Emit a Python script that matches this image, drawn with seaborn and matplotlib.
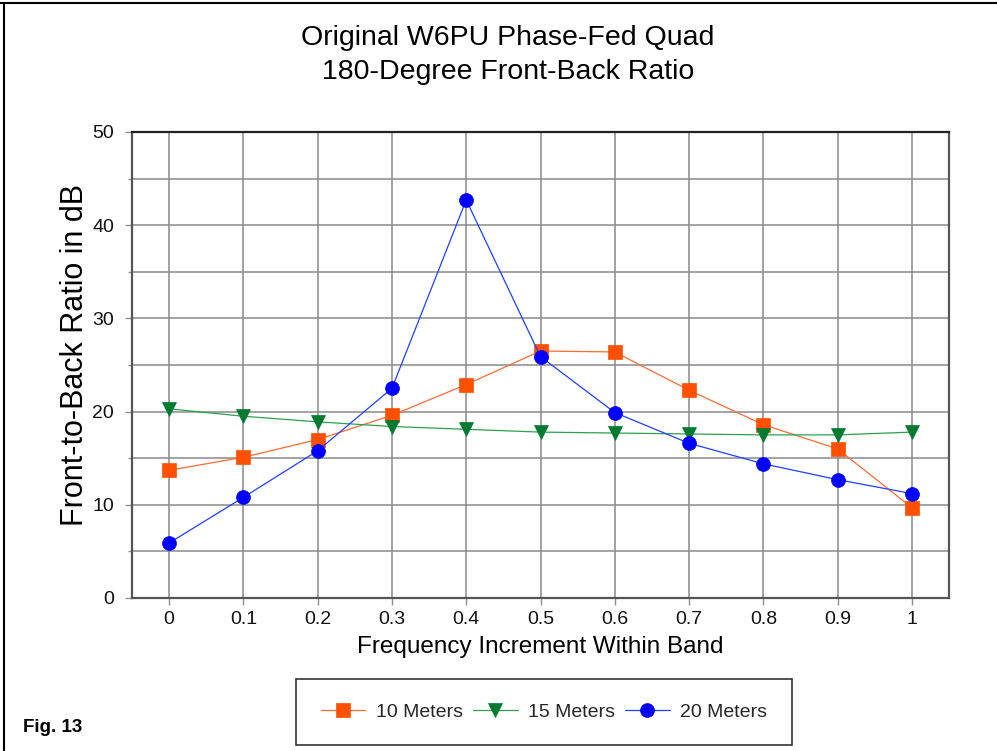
import matplotlib
matplotlib.use("Agg")
import matplotlib.pyplot as plt
import matplotlib.lines as mlines
import seaborn as sns
import pandas as pd
import numpy as np

# ---- data ----
freq = [0, 0.1, 0.2, 0.3, 0.4, 0.5, 0.6, 0.7, 0.8, 0.9, 1.0]
tick_labels = ["0", "0.1", "0.2", "0.3", "0.4", "0.5", "0.6", "0.7", "0.8", "0.9", "1"]
m10 = [13.7, 15.1, 17.0, 19.6, 22.9, 26.5, 26.4, 22.3, 18.6, 16.0, 9.7]
m15 = [20.3, 19.5, 18.9, 18.4, 18.1, 17.8, 17.7, 17.6, 17.5, 17.5, 17.8]
m20 = [5.9, 10.8, 15.8, 22.5, 42.7, 25.9, 19.9, 16.6, 14.4, 12.7, 11.2]
series_names = ["10 Meters", "15 Meters", "20 Meters"]

sns.set_theme(style="white")
plt.rcParams['font.family'] = ['Liberation Sans', 'DejaVu Sans']

fig = plt.figure(figsize=(9.97, 7.51), dpi=100)
ax = fig.add_axes([132/997, 1-598/751, (949-132)/997, (598-132)/751])

styles = [
    dict(y=m10, line="#FF6A35", mfc="#FF5000", marker="s", ms=10),
    dict(y=m15, line="#2EA050", mfc="#007A30", marker="v", ms=10),
    dict(y=m20, line="#2040FF", mfc="#0000FF", marker="o", ms=10),
]
for name, st in zip(series_names, styles):
    df = pd.DataFrame({"x": freq, "y": st["y"]})
    sns.lineplot(data=df, x="x", y="y", ax=ax, color=st["line"], lw=0.9,
                 marker=st["marker"], markersize=st["ms"], markerfacecolor=st["mfc"],
                 markeredgecolor=st["mfc"], markeredgewidth=0.5, label=name, zorder=3)

ax.set_xlim(-0.05, 1.05)
ax.set_ylim(0, 50)
ax.set_xticks(freq)
ax.set_xticklabels(tick_labels)
ax.set_yticks(np.arange(0, 51, 10))
ax.set_yticks(np.arange(5, 50, 10), minor=True)

ax.grid(True, which="major", color="#8a8a8a", lw=1.1)
ax.grid(True, which="minor", axis="y", color="#8a8a8a", lw=1.1)
ax.set_axisbelow(True)

ax.tick_params(axis="both", which="major", labelsize=14, colors="#909090",
               labelcolor="#111111", direction="out", length=5, width=1)
ax.tick_params(axis="y", which="major", pad=8)
ax.tick_params(axis="x", which="major", pad=4)
ax.tick_params(axis="y", which="minor", direction="out", length=3, width=1,
               colors="#909090", left=True)
ax.tick_params(axis="x", bottom=True)
ax.tick_params(axis="y", left=True)

for side, sp in ax.spines.items():
    sp.set_visible(True)
    sp.set_color("#555555")
    sp.set_linewidth(1.6)
ax.spines["top"].set_color("#222222")

ax.set_xlabel("Frequency Increment Within Band", fontsize=17.5, color="#000000", labelpad=6)
ax.set_ylabel("")
fig.text(75/997, 1-355/751, "Front-to-Back Ratio in dB", rotation=90,
         fontsize=22, ha="center", va="center", color="#000000")

fig.text(508/997, 1-38/751, "Original W6PU Phase-Fed Quad", fontsize=20.5,
         ha="center", va="center", color="#000000")
fig.text(508/997, 1-72/751, "180-Degree Front-Back Ratio", fontsize=20.5,
         ha="center", va="center", color="#000000")

leg = ax.legend(loc="center", bbox_to_anchor=(544/997, 1-712/751),
                bbox_transform=fig.transFigure, ncol=3, fontsize=14,
                frameon=True, fancybox=False, edgecolor="#000000",
                handlelength=2.3, handletextpad=0.55, columnspacing=0.5,
                borderpad=1.25, borderaxespad=0)
leg.get_frame().set_linewidth(1.2)

fig.text(23/997, 1-727/751, "Fig. 13", fontsize=13.5, fontweight="bold",
         family=["Liberation Sans Narrow", "Liberation Sans", "DejaVu Sans"],
         ha="left", va="center", color="#000000")

# figure border (top and left edges)
fig.add_artist(mlines.Line2D([0, 1], [1-3/751, 1-3/751], transform=fig.transFigure,
                             color="black", lw=1.5))
fig.add_artist(mlines.Line2D([4/997, 4/997], [0, 1-3/751], transform=fig.transFigure,
                             color="black", lw=1.5))

fig.savefig("out.png", dpi=100, facecolor="white")
